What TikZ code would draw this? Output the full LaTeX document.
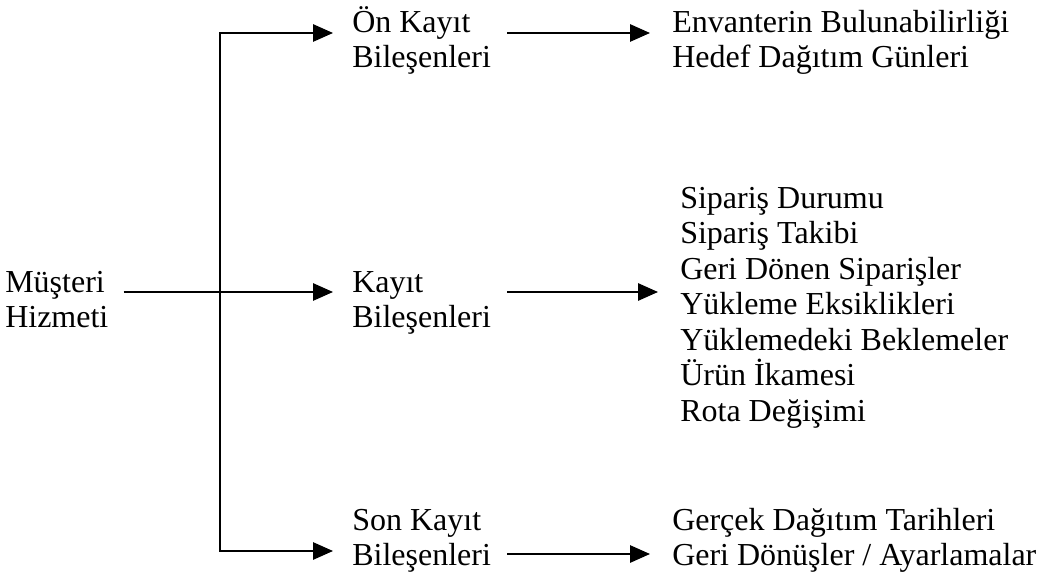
\documentclass[tikz,border=0pt]{standalone}
\usepackage{fontspec}
\setmainfont{Liberation Serif}
\usetikzlibrary{arrows.meta,calc}
\begin{document}
\begin{tikzpicture}[x=0.75pt,y=-0.75pt,
  lbl/.style={anchor=base west,inner sep=0pt,align=left,
    font=\fontsize{24pt}{26.25pt}\selectfont},
  listlbl/.style={lbl,font=\fontsize{24pt}{26.6pt}\selectfont},
  arr/.style={line width=1.4pt,-{Triangle[length=15pt,width=13pt]}}]
\useasboundingbox (0,0) rectangle (1048,584);

% left root (base = baseline of the last line)
\node[lbl] (mh) at (5,327) {Müşteri\\Hizmeti};

% middle column
\node[lbl] (ok) at (352,68) {Ön Kayıt\\Bileşenleri};
\node[lbl] (kb) at (352,327) {Kayıt\\Bileşenleri};
\node[lbl] (sk) at (352,565) {Son Kayıt\\Bileşenleri};

% right column
\node[lbl] (ev) at (672,68) {Envanterin Bulunabilirliği\\Hedef Dağıtım Günleri};
\node[listlbl] (ls) at (680,421) {Sipariş Durumu\\Sipariş Takibi\\Geri Dönen Siparişler\\Yükleme Eksiklikleri\\Yüklemedeki Beklemeler\\Ürün İkamesi\\Rota Değişimi};
\node[lbl] (gd) at (672,565) {Gerçek Dağıtım Tarihleri\\Geri Dönüşler / Ayarlamalar};

\coordinate (split) at (220,0);
\coordinate (rcol) at (507,0);
\coordinate (hub) at ($(split |- mh.base)+(0,-35)$);

% branching from the root
\draw[arr] ($(mh.base east)+(15,-35)$) -- ($(kb.base west)+(-19,-35)$);
\draw[arr] (hub) |- ($(ok.base west)+(-19,-35)$);
\draw[arr] (hub) |- ($(sk.base west)+(-19,-14)$);

% to the detail lists
\draw[arr] ($(ok.base -| rcol)+(0,-35)$) -- ($(ev.base west)+(-22,-35)$);
\draw[arr] ($(kb.base -| rcol)+(0,-35)$) -- ($(kb.base -| ls.west)+(-22,-35)$);
\draw[arr] ($(sk.base -| rcol)+(0,-11)$) -- ($(gd.base west)+(-22,-11)$);
\end{tikzpicture}
\end{document}
